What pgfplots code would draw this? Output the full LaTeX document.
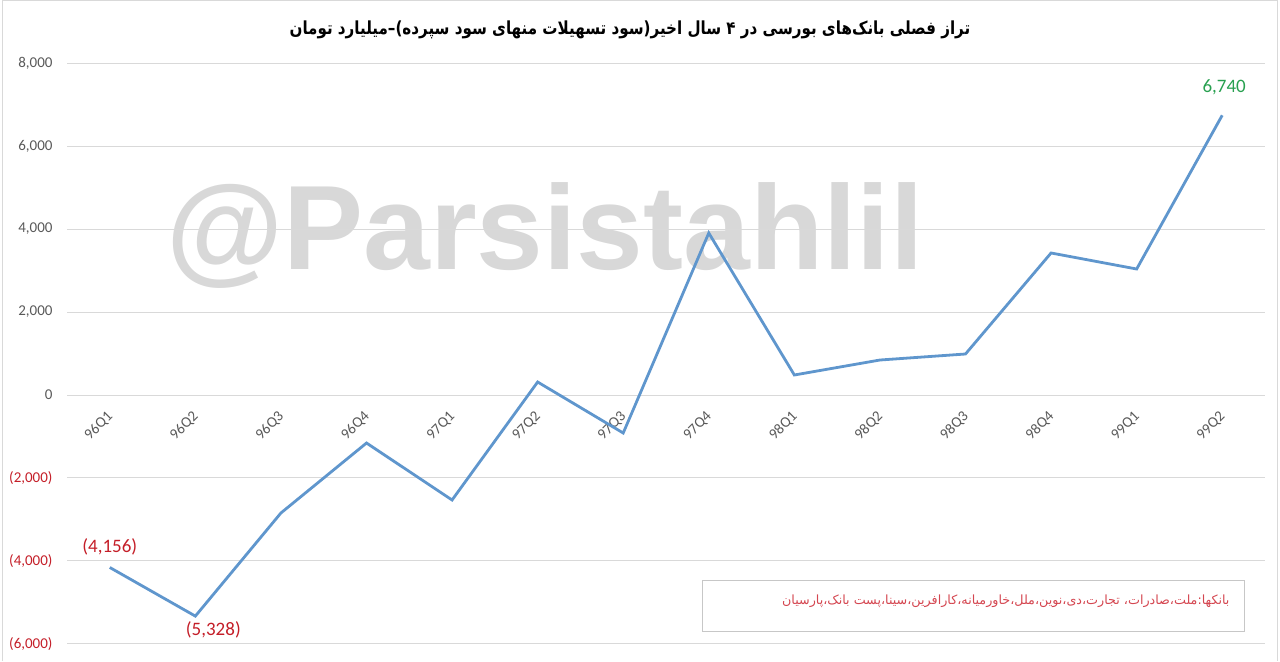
\documentclass[border=0pt]{standalone}
\usepackage{pgfplots}
\pgfplotsset{compat=1.18}
\usepackage{fontspec}
\setmainfont{Carlito}
\newfontfamily\arabicfont[Script=Arabic]{DejaVu Sans}
\newfontfamily\titlefont[Script=Arabic, FakeStretch=0.84]{DejaVu Sans Bold}
\newfontfamily\wmfont{Liberation Sans}
\TeXXeTstate=1

\definecolor{lineblue}{RGB}{95,150,205}
\definecolor{gridgray}{RGB}{217,217,217}
\definecolor{tickgray}{RGB}{89,89,89}
\definecolor{negred}{RGB}{196,30,40}
\definecolor{notered}{RGB}{212,70,80}
\definecolor{posgreen}{RGB}{40,160,80}
\definecolor{wmgray}{RGB}{216,216,216}

\begin{document}
\begin{tikzpicture}
\path (0,0) rectangle (1280pt,661pt);
\draw[gridgray, line width=1pt] (2pt,0pt) -- (2pt,660pt) -- (1277pt,660pt) -- (1277pt,0pt);
% watermark
\node[anchor=base, text=wmgray, font=\wmfont\bfseries\fontsize{120}{120}\selectfont] at (545pt,391pt) {@Parsistahlil};

\begin{axis}[
    at={(67pt,17pt)}, anchor=south west,
    scale only axis,
    width=1198pt, height=581pt,
    xmin=-0.5, xmax=13.5,
    ymin=-6000, ymax=8000,
    xtick={0,...,13},
    xticklabels={96Q1,96Q2,96Q3,96Q4,97Q1,97Q2,97Q3,97Q4,98Q1,98Q2,98Q3,98Q4,99Q1,99Q2},
    xticklabel style={yshift=232pt, xshift=3pt, anchor=east, rotate=45,
        text=tickgray, font=\fontsize{15}{15}\selectfont},
    ytick={-6000,-4000,...,8000},
    scaled y ticks=false,
    /pgf/number format/assume math mode=true,
    /pgf/number format/1000 sep={,},
    yticklabel={\pgfmathtruncatemacro\tv{\tick}\ifnum\tv<0 \pgfmathtruncatemacro\av{-\tv}\textcolor{negred}{(\pgfmathprintnumber{\av})}\else\pgfmathprintnumber{\tv}\fi},
    yticklabel style={text=tickgray, font=\fontsize{15}{15}\selectfont, xshift=-11pt},
    ymajorgrids,
    grid style={gridgray, line width=1pt},
    axis line style={draw=none},
    tick style={draw=none},
    clip=false,
]
\addplot[lineblue, line width=2.8pt, mark=none] coordinates {
    (0,-4156) (1,-5328) (2,-2843) (3,-1157) (4,-2530) (5,313) (6,-916)
    (7,3904) (8,482) (9,843) (10,988) (11,3422) (12,3036) (13,6740)
};
% data labels
\addplot[draw=none, mark=none, nodes near coords={(4{,}156)},
    every node near coord/.style={text=negred, font=\fontsize{19}{19}\selectfont, anchor=center, yshift=21pt}]
    coordinates {(0,-4156)};
\addplot[draw=none, mark=none, nodes near coords={(5{,}328)},
    every node near coord/.style={text=negred, font=\fontsize{19}{19}\selectfont, anchor=center, xshift=18pt, yshift=-14pt}]
    coordinates {(1,-5328)};
\addplot[draw=none, mark=none, nodes near coords={6{,}740},
    every node near coord/.style={text=posgreen, font=\fontsize{19}{19}\selectfont, anchor=center, xshift=2pt, yshift=28pt}]
    coordinates {(13,6740)};
\end{axis}

% title
\node[font=\titlefont\fontsize{18}{22}\selectfont] at (630pt,631pt)
    {\beginR تراز فصلی بانک‌های بورسی  در ۴ سال اخیر(سود تسهیلات منهای سود سپرده)–میلیارد تومان\endR};
% note box
\draw[gridgray!80!gray, line width=1pt] (702pt,30pt) rectangle (1244pt,80pt);
\node[anchor=east, text=notered, font=\arabicfont\fontsize{12.7}{15}\selectfont] at (1233pt,60pt)
    {\beginR بانکها:ملت،صادرات، تجارت،دی،نوین،ملل،خاورمیانه،کارافرین،سینا،پست بانک،پارسیان\endR};
\end{tikzpicture}
\end{document}
